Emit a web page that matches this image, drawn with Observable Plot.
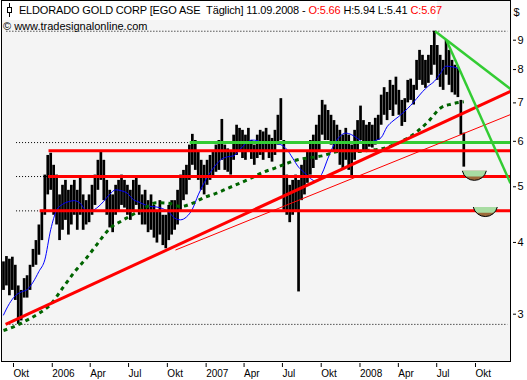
<!DOCTYPE html>
<html><head><meta charset="utf-8">
<script src="https://cdn.jsdelivr.net/npm/d3@7"></script>
<script src="https://cdn.jsdelivr.net/npm/@observablehq/plot@0.6"></script>
<style>
body{margin:0;background:#fff;}
#wrap{position:relative;width:527px;height:380px;font-family:"Liberation Sans",Arial,sans-serif;}
#title{position:absolute;left:2px;top:1px;height:19px;width:435px;background:#fff;font-size:11px;line-height:19px;white-space:pre;letter-spacing:-0.15px;color:#000;}
#copy{position:absolute;left:3px;top:20px;font-size:11px;line-height:12px;color:#000;}
</style></head><body><div id="wrap"></div>
<script>
// ---- data ----
const firstWeek = "2005-09-12"; // Monday of first weekly bar
const weekHigh = [3.70,3.78,3.74,3.77,3.65,3.36,3.30,3.46,3.50,3.65,
3.89,4.03,4.29,4.55,5.24,5.67,5.72,5.45,5.24,4.84,
5.03,5.13,4.93,5.03,5.13,4.93,5.17,4.84,4.73,4.84,
5.03,5.24,5.56,5.78,5.56,5.13,4.93,4.84,5.03,5.13,
5.24,5.13,5.03,4.93,5.13,5.19,5.03,4.84,4.93,4.73,
4.84,4.64,4.55,4.73,4.46,4.46,4.64,4.73,4.73,4.93,
5.24,5.34,5.45,5.91,6.17,6.02,5.78,5.56,5.45,5.56,
5.67,5.78,5.91,6.02,6.55,5.91,5.82,5.78,6.15,6.40,
6.32,6.27,6.15,6.32,6.02,5.91,6.15,6.27,6.23,6.32,
6.15,6.07,6.27,6.66,7.12,6.02,5.24,5.03,5.13,5.24,
5.13,5.45,5.56,5.78,6.02,6.15,6.40,6.66,7.07,6.94,
6.79,6.66,6.52,6.40,6.27,6.15,6.32,6.15,5.91,6.27,
6.52,6.91,6.52,6.40,6.47,6.40,6.58,6.66,7.22,7.44,
7.30,7.66,7.51,7.76,7.36,7.07,7.12,7.66,7.70,7.51,
8.30,8.64,8.47,8.30,8.47,8.81,9.33,8.81,8.47,8.30,
8.99,8.64,8.30,8.14,8.06,7.07,6.20];
const weekLow = [3.30,3.36,3.23,3.30,3.17,2.88,2.92,3.20,3.20,3.30,
3.62,3.65,3.80,4.03,4.46,4.84,4.93,4.46,4.29,4.03,
4.20,4.37,4.12,4.29,4.46,4.20,4.46,4.20,4.29,4.33,
4.46,4.64,4.93,5.13,4.73,4.46,4.24,4.16,4.46,4.55,
4.64,4.59,4.46,4.37,4.51,4.64,4.46,4.29,4.29,4.16,
4.20,4.07,3.99,4.12,3.95,3.90,4.03,4.12,4.20,4.29,
4.55,4.73,4.84,5.13,5.45,5.34,5.13,4.93,4.84,5.03,
5.13,5.17,5.30,5.34,5.56,5.34,5.30,5.24,5.56,5.67,
5.74,5.60,5.56,5.78,5.58,5.45,5.60,5.67,5.56,5.78,
5.60,5.52,5.67,5.91,6.02,4.55,4.46,4.33,4.46,4.55,
3.28,4.73,4.84,5.07,5.24,5.38,5.56,5.78,6.15,6.02,
6.02,5.91,5.78,5.78,5.45,5.38,5.56,5.34,5.21,5.56,
5.78,6.02,5.74,5.78,5.86,5.84,5.91,6.02,6.40,6.66,
6.52,6.79,6.63,6.94,6.66,6.37,6.47,7.00,7.07,6.94,
7.36,7.66,7.51,7.42,7.57,7.82,8.14,7.66,7.45,7.36,
7.82,7.51,7.29,7.22,7.15,6.15,5.41];
// blue moving average, one value every 2 weeks
const blueMA = [2.99,3.13,3.23,3.28,3.31,3.41,3.56,3.73,4.21,4.55,4.66,4.71,4.73,4.68,4.55,4.55,4.61,4.72,4.85,4.94,
4.92,4.87,4.75,4.70,4.65,4.62,4.61,4.58,4.52,4.41,4.38,4.43,4.57,4.84,5.08,5.29,5.46,5.59,5.64,5.66,
5.80,5.94,6.03,6.02,5.94,5.96,5.95,5.92,5.81,5.61,5.41,5.29,5.17,5.11,5.28,5.61,5.92,6.12,6.20,6.16,
6.07,5.98,5.98,6.02,6.09,6.36,6.51,6.63,6.77,6.93,7.12,7.32,7.49,7.63,7.87,8.11,8.09,8.03,7.70];
// green dotted moving average, one value every 4 weeks
const greenMA = [2.81,2.86,2.93,3.01,3.12,3.33,3.55,3.75,3.99,4.23,4.36,4.48,4.60,4.69,4.68,4.62,4.68,4.79,4.87,4.97,
5.07,5.18,5.30,5.39,5.49,5.58,5.62,5.66,5.74,5.78,5.76,5.79,5.82,5.91,6.04,6.23,6.50,6.85,6.97,7.03];
// horizontal levels
const greenLevel = 5.97, greenLevelStart = "2006-11-29";
const redLevels = [5.78, 5.21, 4.54];
const redLevelStarts = ["2005-12-29", "2005-12-28", "2005-12-08"];
const dottedLevels = [5.97, 5.21, 4.54];
const dottedFrom = "2005-10-13";
const extremeLevels = [9.33, 2.88];
// trend lines (start date, start price, price at right edge)
const trendStarts = ["2005-09-17", "2006-10-25", "2008-07-02", "2008-07-29"];
const trendStartPrices = [2.88, 3.88, 9.33, 8.99];
const trendEndPrices = [7.33, 6.68, 7.40, 5.07];
// target bowls
const bowlDates = ["2008-10-03", "2008-10-29"];
const bowlPrices = [5.33, 4.61];
// axis ticks
const xTickDates = ["2005-10-01","2006-01-01","2006-04-01","2006-07-01","2006-10-01","2007-01-01","2007-04-01","2007-07-01","2007-10-01","2008-01-01","2008-04-01","2008-07-01","2008-10-01"];
const xTickLabels = ["Okt","2006","Apr","Jul","Okt","2007","Apr","Jul","Okt","2008","Apr","Jul","Okt"];
const yTicks = [3,4,5,6,7,8,9];

// ---- build ----
const DAY = 864e5;
const t0 = Date.parse(firstWeek);
const weeks = weekHigh.map((h, k) => ({date: new Date(t0 + k*7*DAY), high: h, low: weekLow[k]}));
const blue = blueMA.map((v, i) => ({date: weeks[2*i].date, v}));
const green = greenMA.map((v, i) => ({date: weeks[4*i].date, v}));
const xStart = new Date(Date.UTC(2005,8,7,6,43));
const xEnd = new Date(Date.UTC(2008,11,27,19,12));
const P = s => new Date(s);
const trends = trendStarts.map((d,i) => ({x1: P(d), y1: trendStartPrices[i], x2: xEnd, y2: trendEndPrices[i], kind: i}));
const reds = redLevels.map((p,i) => ({p, x1: P(redLevelStarts[i]), x2: xEnd}));
const dots = dottedLevels.map((p,i) => ({p, x1: P(dottedFrom), x2: i===0 ? P(greenLevelStart) : P(redLevelStarts[i])}));
const extremes = extremeLevels.map(p => ({p}));
const bowls = bowlDates.map((d,i) => ({date: P(d), p: bowlPrices[i]}));
const labelMap = new Map(xTickDates.map((d,i) => [P(d).getTime(), xTickLabels[i]]));

const SR = 9.5/12;
function geo(size){ const w = Math.sqrt(size/Math.PI); const s = SR*w; const R = (w*w+s*s)/(2*s); const c = R - s; const t = Math.atan2(c, w); return {w,s,R,c,t}; }
const bowlFull = {draw(ctx,size){const {w,R,c,t}=geo(size); ctx.moveTo(-w,0); ctx.lineTo(w,0); ctx.arc(0,-c,R,t,Math.PI-t); ctx.closePath();}};
const bowlTop = {draw(ctx,size){const {w,s,R,c,t}=geo(size); const g=0.6*s; const yy=g+c; const xg=Math.sqrt(R*R-yy*yy); const tg=Math.atan2(yy,xg);
  ctx.moveTo(-w,0); ctx.lineTo(w,0); ctx.arc(0,-c,R,t,tg); ctx.lineTo(-xg,g); ctx.arc(0,-c,R,Math.PI-tg,Math.PI-t); ctx.closePath();}};
const bowlArc = {draw(ctx,size){const {w,R,c,t}=geo(size); ctx.moveTo(w,0); ctx.arc(0,-c,R,t,Math.PI-t);}};

const chart = Plot.plot({
  width: 527, height: 380,
  marginLeft: 1, marginRight: 17, marginTop: 0, marginBottom: 19,
  style: {fontFamily: "Liberation Sans, Arial, sans-serif", fontSize: "10px", background: "white", overflow: "visible"},
  x: {type: "utc", domain: [xStart, xEnd]},
  y: {type: "log", domain: [2.4817, 10.553]},
  marks: [
    Plot.frame({fill: "#f4f4f4", stroke: "none"}),
    Plot.ruleY(extremes, {y: "p", x1: P("2005-09-20"), x2: P("2008-12-22"), stroke: "black", strokeDasharray: "1,2", strokeWidth: 1}),
    Plot.ruleY(dots, {y: "p", x1: "x1", x2: "x2", stroke: "black", strokeDasharray: "1,2", strokeWidth: 1}),
    Plot.ruleX(weeks, {x: "date", y1: "low", y2: "high", stroke: "black", strokeWidth: 2.7}),
    Plot.line(blue, {x: "date", y: "v", stroke: "#0000ff", strokeWidth: 1, curve: "monotone-x"}),
    Plot.line(green, {x: "date", y: "v", stroke: "#006400", strokeWidth: 3, strokeDasharray: "4,4", strokeLinecap: "butt", curve: "monotone-x"}),
    Plot.ruleY([greenLevel], {x1: P(greenLevelStart), x2: xEnd, stroke: "#33cc33", strokeWidth: 3}),
    Plot.ruleY(reds, {y: "p", x1: "x1", x2: "x2", stroke: "#ff0000", strokeWidth: 3}),
    Plot.link(trends.filter(d => d.kind === 0), {x1: "x1", y1: "y1", x2: "x2", y2: "y2", stroke: "#ff0000", strokeWidth: 3, clip: true}),
    Plot.link(trends.filter(d => d.kind === 1), {x1: "x1", y1: "y1", x2: "x2", y2: "y2", stroke: "#ff0000", strokeWidth: 1, clip: true}),
    Plot.link(trends.filter(d => d.kind >= 2), {x1: "x1", y1: "y1", x2: "x2", y2: "y2", stroke: "#33cc33", strokeWidth: 2.5, clip: true}),
    Plot.dot(bowls, {x: "date", y: "p", r: 12, symbol: bowlFull, fill: "#9b6a3a", stroke: "none"}),
    Plot.dot(bowls, {x: "date", y: "p", r: 12, symbol: bowlTop, fill: "#a8dca2", stroke: "none"}),
    Plot.dot(bowls, {x: "date", y: "p", r: 12, symbol: bowlArc, fill: "none", stroke: "black", strokeWidth: 1}),
    Plot.axisX({ticks: xTickDates.map(P), tickFormat: d => labelMap.get(d.getTime()), tickSize: 4, tickPadding: 2, dy: 2, textAnchor: "start", dx: 2, label: null, fontSize: 10}),
    Plot.axisY({anchor: "right", ticks: yTicks, tickFormat: d => String(d), tickSize: 3, tickPadding: 2, dx: 2, label: null, fontSize: 11}),
    Plot.text(["$"], {frameAnchor: "top-right", dx: 9, dy: 8, fontSize: 11}),
    Plot.frame({stroke: "black", fill: "none"})
  ]
});

const wrap = document.getElementById("wrap");
wrap.appendChild(chart);
const title = document.createElement("div");
title.id = "title";
title.innerHTML = '<svg width="12" height="14" style="vertical-align:-3px;margin-left:2px"><line x1="5.5" y1="0" x2="5.5" y2="14" stroke="black"/><rect x="3.5" y="4.5" width="4" height="5" fill="white" stroke="black"/></svg> ELDORADO GOLD CORP [EGO ASE&nbsp; Täglich] 11.09.2008 - <span style="color:#ff0000">O:5.66</span> H:5.94 L:5.41 <span style="color:#ff0000">C:5.67</span>';
wrap.appendChild(title);
const copy = document.createElement("div");
copy.id = "copy";
copy.textContent = "© www.tradesignalonline.com";
wrap.appendChild(copy);
</script>
</body></html>
